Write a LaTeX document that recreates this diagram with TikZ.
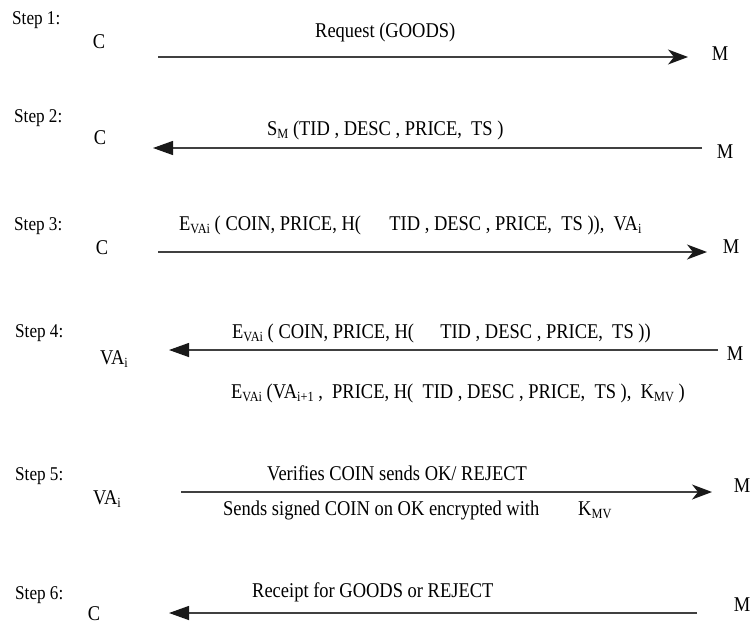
\documentclass[tikz,border=0pt]{standalone}
\usepackage{fontspec}
\setmainfont{Liberation Serif}[FakeStretch=0.88]
\usetikzlibrary{arrows.meta}

\newcommand{\sbs}[1]{\raisebox{-0.4ex}{\fontsize{14}{14}\selectfont #1}}

\tikzset{
  msg/.style={line width=1.3pt, draw=black!75},
  fwd/.style={msg, -{Stealth[length=20pt, width=15pt, inset=6pt, black!90]}},
  bwd/.style={msg, -{Triangle[length=20pt, width=14pt, black!90]}},
  party/.style={anchor=base, inner sep=0pt, font=\fontsize{21}{24}\selectfont},
  steplbl/.style={anchor=base west, inner sep=0pt, font=\fontsize{19.5}{22}\selectfont},
  txt/.style={anchor=base west, inner sep=0pt, font=\fontsize{21}{24}\selectfont}
}

\begin{document}
\begin{tikzpicture}[x=1pt, y=-1pt]
    \useasboundingbox (0,0) rectangle (753,624);

    % Step 1
    \node[steplbl] (st1) at (12,24) {Step 1:};
    \node[party] (c1) at (99,48) {C};
    \node[party] (m1) at (720,60) {M};
    \coordinate (a1) at (158,57);
    \coordinate (b1) at (688,57);
    \draw[fwd] (a1) -- (b1);
    \node[txt] (l1) at (315,37) {Request (GOODS)};

    % Step 2
    \node[steplbl] (st2) at (14,122) {Step 2:};
    \node[party] (c2) at (100,144) {C};
    \node[party] (m2) at (725,158) {M};
    \coordinate (a2) at (702,148);
    \coordinate (b2) at (153,148);
    \draw[bwd] (a2) -- (b2);
    \node[txt] (l2) at (267,135) {S\sbs{M} (TID , DESC , PRICE,\ \ TS )};

    % Step 3
    \node[steplbl] (st3) at (14,230) {Step 3:};
    \node[party] (c3) at (102,254) {C};
    \node[party] (m3) at (731,253) {M};
    \coordinate (a3) at (158,252);
    \coordinate (b3) at (707,252);
    \draw[fwd] (a3) -- (b3);
    \node[txt] (l3) at (179,230) {E\sbs{VAi} ( COIN, PRICE, H(\hspace{1.35em}TID , DESC , PRICE,\ \ TS )),\ \ VA\sbs{i}};

    % Step 4
    \node[steplbl] (st4) at (15,337) {Step 4:};
    \node[party] (va4) at (114,364) {VA\sbs{i}};
    \node[party] (m4) at (735,360) {M};
    \coordinate (a4) at (718,350);
    \coordinate (b4) at (169,350);
    \draw[bwd] (a4) -- (b4);
    \node[txt] (l4a) at (232,338) {E\sbs{VAi} ( COIN, PRICE, H(\hspace{1.25em}TID , DESC , PRICE,\ \ TS ))};
    \node[txt] (l4b) at (231,398) {E\sbs{VAi} (VA\sbs{i+1} ,\ \ PRICE, H(\ \ TID , DESC , PRICE,\ \ TS ),\ \ K\sbs{MV} )};

    % Step 5
    \node[steplbl] (st5) at (15,480) {Step 5:};
    \node[party] (va5) at (107,504) {VA\sbs{i}};
    \node[party] (m5) at (742,492) {M};
    \coordinate (a5) at (181,492);
    \coordinate (b5) at (712,492);
    \draw[fwd] (a5) -- (b5);
    \node[txt] (l5a) at (267,480) {Verifies COIN sends OK/ REJECT};
    \node[txt] (l5b) at (223,515) {Sends signed COIN on OK encrypted with};
    \node[txt] (l5c) at (578,515) {K\sbs{MV}};

    % Step 6
    \node[steplbl] (st6) at (15,599) {Step 6:};
    \node[party] (c6) at (94,620) {C};
    \node[party] (m6) at (742,611) {M};
    \coordinate (a6) at (697,613);
    \coordinate (b6) at (169,613);
    \draw[bwd] (a6) -- (b6);
    \node[txt] (l6) at (252,597) {Receipt for GOODS or REJECT};
\end{tikzpicture}
\end{document}
